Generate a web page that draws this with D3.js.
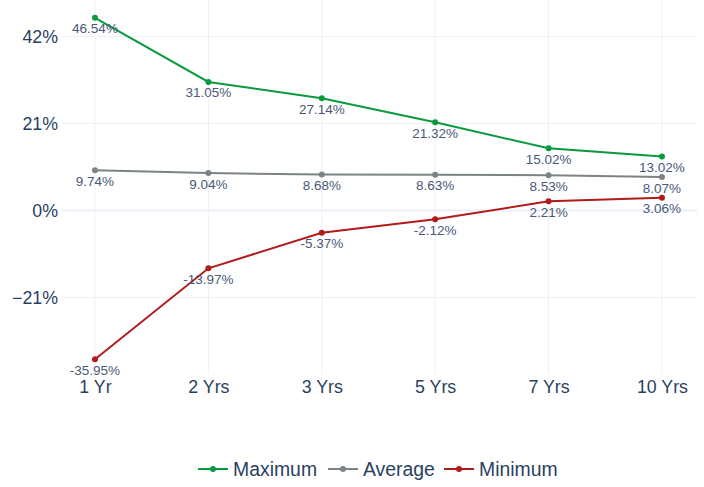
<!DOCTYPE html>
<html><head><meta charset="utf-8">
<script src="https://cdn.jsdelivr.net/npm/d3@7"></script>
<style>body{margin:0;background:#fff}svg{display:block;font-family:"Liberation Sans",Arial,sans-serif}</style>
</head><body><svg id="c" width="704" height="487"></svg>
<script>
const categories = ["1 Yr","2 Yrs","3 Yrs","5 Yrs","7 Yrs","10 Yrs"];
const maximum = [46.54,31.05,27.14,21.32,15.02,13.02];
const average = [9.74,9.04,8.68,8.63,8.53,8.07];
const minimum = [-35.95,-13.97,-5.37,-2.12,2.21,3.06];
const yTicks = [-21,0,21,42];
const seriesNames = ["Maximum","Average","Minimum"];
const seriesColors = ["#0a9a3e","#7c8387","#b11b1b"];

const svg = d3.select("#c");
const L=62,R=697,T=0,B=374;
const x = d3.scaleLinear().domain([-0.291,5.309]).range([L,R]);
const y = d3.scaleLinear().domain([-39.5,50.85]).range([B,T]);

const g = svg.append("g");
// grid
g.selectAll(".vg").data(categories).join("line")
 .attr("x1",(d,i)=>x(i)).attr("x2",(d,i)=>x(i)).attr("y1",T).attr("y2",B)
 .attr("stroke","#ebf0f8").attr("stroke-width",1);
g.selectAll(".hg").data(yTicks).join("line")
 .attr("x1",L).attr("x2",R).attr("y1",d=>y(d)).attr("y2",d=>y(d))
 .attr("stroke","#ebf0f8").attr("stroke-width",d=>d===0?2:1);

// y axis
const yAxis = d3.axisLeft(y).tickValues(yTicks).tickSize(0).tickPadding(4)
 .tickFormat(d=>(d<0?"\u2212"+Math.abs(d):d)+"%");
svg.append("g").attr("transform",`translate(${L},0)`).call(yAxis)
 .call(a=>a.select(".domain").remove())
 .call(a=>a.selectAll("text").attr("fill","#2a3f5f").attr("font-size",17.8).attr("font-family","Liberation Sans, Arial, sans-serif"));

// x axis
const xAxis = d3.axisBottom(x).tickValues(d3.range(categories.length)).tickSize(0).tickPadding(6)
 .tickFormat(i=>categories[i]);
svg.append("g").attr("transform",`translate(0,${B})`).call(xAxis)
 .call(a=>a.select(".domain").remove())
 .call(a=>a.selectAll("text").attr("fill","#2a3f5f").attr("font-size",17.8).attr("font-family","Liberation Sans, Arial, sans-serif"));

const allSeries = [maximum,average,minimum];
const line = d3.line().x((d,i)=>x(i)).y(d=>y(d));
allSeries.forEach((vals,si)=>{
  const c = seriesColors[si];
  svg.append("path").attr("d",line(vals)).attr("fill","none").attr("stroke",c).attr("stroke-width",2);
  svg.append("g").selectAll("circle").data(vals).join("circle")
   .attr("cx",(d,i)=>x(i)).attr("cy",d=>y(d)).attr("r",3).attr("fill",c);
  svg.append("g").selectAll("text").data(vals).join("text")
   .attr("x",(d,i)=>x(i)).attr("y",d=>y(d)+15.5).attr("text-anchor","middle")
   .attr("font-size",13.5).attr("fill","#4a5878")
   .text(d=>d.toFixed(2)+"%");
});

// legend
const legendX = [198,328,444];
const lg = svg.append("g");
seriesNames.forEach((n,i)=>{
  const lx = legendX[i], ly = 469;
  lg.append("line").attr("x1",lx).attr("x2",lx+30).attr("y1",ly).attr("y2",ly).attr("stroke",seriesColors[i]).attr("stroke-width",2);
  lg.append("circle").attr("cx",lx+15).attr("cy",ly).attr("r",3).attr("fill",seriesColors[i]);
  lg.append("text").attr("x",lx+35).attr("y",ly+7).attr("font-size",19.4).attr("fill","#2a3f5f").text(n);
});
</script></body></html>
